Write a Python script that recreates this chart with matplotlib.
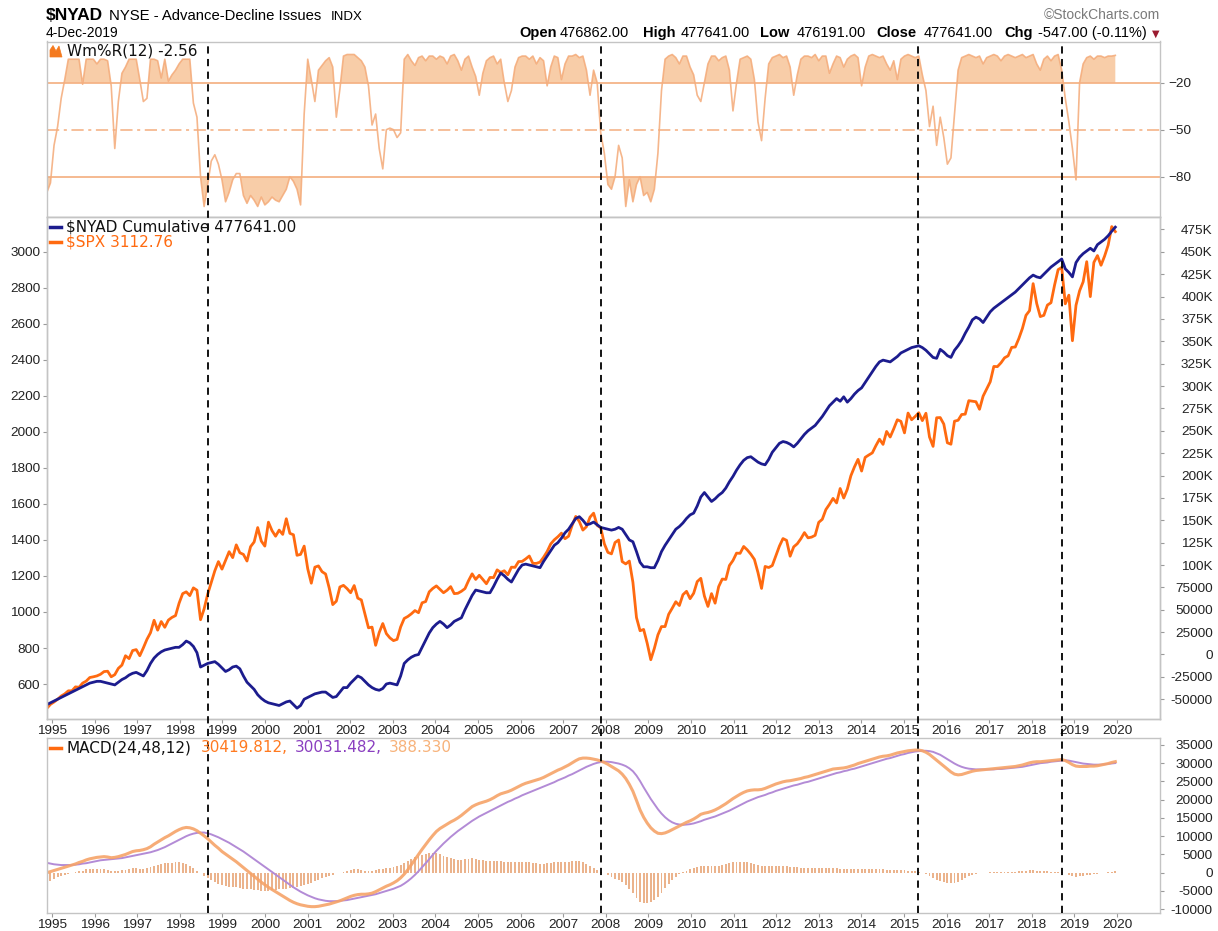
import numpy as np
import matplotlib.pyplot as plt
from matplotlib.lines import Line2D
from matplotlib.patches import Polygon

W, H = 1218, 931

# ---- data (monthly, Jan 1995 .. Dec 2019) ----
spx = [
    465, 487, 500, 515, 533, 545, 562, 562, 584, 582, 605, 616,
    636, 640, 645, 654, 669, 671, 640, 652, 687, 705, 757, 741,
    786, 791, 757, 801, 848, 885, 954, 899, 947, 915, 955, 970,
    980, 1049, 1102, 1112, 1091, 1134, 1121, 957, 1017, 1099, 1164, 1229,
    1280, 1238, 1286, 1335, 1302, 1373, 1329, 1320, 1283, 1363, 1389, 1469,
    1394, 1366, 1499, 1452, 1421, 1455, 1431, 1518, 1437, 1429, 1315, 1320,
    1366, 1240, 1160, 1249, 1256, 1224, 1211, 1134, 1041, 1060, 1139, 1148,
    1130, 1107, 1147, 1077, 1067, 990, 912, 916, 815, 886, 936, 880,
    856, 841, 848, 917, 964, 975, 990, 1008, 996, 1051, 1058, 1112,
    1131, 1145, 1126, 1107, 1121, 1141, 1102, 1104, 1115, 1130, 1174, 1212,
    1181, 1204, 1181, 1157, 1192, 1191, 1234, 1220, 1229, 1207, 1249, 1248,
    1280, 1281, 1295, 1311, 1270, 1270, 1277, 1304, 1336, 1378, 1401, 1418,
    1438, 1407, 1421, 1482, 1531, 1503, 1455, 1474, 1527, 1549, 1481, 1468,
    1379, 1331, 1323, 1386, 1400, 1280, 1267, 1283, 1165, 969, 896, 903,
    826, 735, 798, 873, 919, 919, 987, 1021, 1057, 1036, 1096, 1115,
    1074, 1104, 1169, 1187, 1089, 1031, 1102, 1049, 1141, 1183, 1181, 1258,
    1286, 1327, 1326, 1364, 1345, 1321, 1292, 1219, 1131, 1253, 1247, 1258,
    1312, 1366, 1408, 1398, 1310, 1362, 1379, 1407, 1441, 1412, 1416, 1426,
    1498, 1515, 1569, 1598, 1631, 1606, 1686, 1633, 1682, 1757, 1806, 1848,
    1783, 1859, 1872, 1884, 1924, 1960, 1931, 2003, 1972, 2018, 2068, 2059,
    1995, 2105, 2068, 2086, 2107, 2063, 2104, 1972, 1920, 2079, 2080, 2044,
    1940, 1932, 2060, 2065, 2097, 2099, 2174, 2171, 2168, 2126, 2199, 2239,
    2279, 2364, 2363, 2384, 2412, 2423, 2470, 2472, 2519, 2575, 2648, 2674,
    2824, 2714, 2641, 2648, 2705, 2718, 2816, 2902, 2914, 2712, 2760, 2507,
    2704, 2784, 2834, 2946, 2752, 2942, 2980, 2926, 2977, 3038, 3141, 3113,
]

# NYSE advance-decline cumulative line, thousands
nyad_k = [
    -56, -54, -52, -50, -48, -46, -44, -42, -40, -38, -36, -34,
    -32, -31, -30, -30, -31, -32, -33, -34, -31, -28, -26, -23,
    -21, -20, -22, -24, -18, -10, -4, 0, 3, 5, 6, 7,
    8, 8, 11, 15, 13, 9, 2, -14, -12, -10, -9, -8,
    -11, -15, -19, -17, -14, -13, -16, -24, -31, -35, -39, -45,
    -49, -52, -54, -55, -56, -57, -55, -53, -52, -56, -60, -57,
    -50, -48, -46, -44, -43, -42, -42, -45, -48, -47, -42, -37,
    -37, -32, -28, -24, -26, -30, -34, -37, -39, -40, -38, -33,
    -32, -33, -34, -24, -10, -6, -3, -1, 0, 8, 16, 24,
    30, 34, 37, 34, 30, 33, 37, 39, 41, 50, 58, 66,
    72, 71, 70, 69, 69, 76, 84, 91, 88, 84, 81, 88,
    95, 100, 101, 100, 99, 98, 97, 104, 110, 116, 122, 125,
    130, 136, 140, 146, 152, 154, 150, 145, 146, 148, 145, 142,
    141, 140, 139, 140, 142, 140, 134, 128, 126, 115, 103, 98,
    98, 97, 97, 105, 115, 122, 128, 134, 140, 143, 147, 152,
    156, 158, 166, 176, 181, 176, 171, 174, 178, 181, 186, 193,
    199, 206, 212, 217, 220, 221, 218, 215, 213, 212, 218, 226,
    231, 236, 238, 237, 235, 232, 236, 241, 246, 250, 253, 256,
    261, 266, 272, 278, 282, 286, 283, 288, 282, 286, 291, 295,
    298, 304, 310, 316, 322, 327, 329, 328, 327, 330, 333, 337,
    339, 341, 343, 344, 345, 343, 340, 336, 332, 331, 341, 338,
    334, 332, 340, 345, 351, 359, 366, 374, 377, 375, 371, 377,
    383, 387, 390, 393, 396, 399, 402, 405, 409, 413, 417, 421,
    424, 422, 421, 425, 429, 433, 436, 439, 442, 431, 427, 422,
    438, 444, 448, 451, 454, 451, 458, 461, 464, 468, 473, 477.6,
]

# Williams %R (12)
willr = [
    -90, -84, -60, -48, -30, -18, -5, -5, -5, -5, -21, -5,
    -5, -5, -8, -5, -5, -6, -22, -62, -32, -14, -10, -5,
    -5, -5, -18, -32, -30, -5, -5, -6, -17, -5, -19, -15,
    -12, -8, -5, -5, -5, -33, -42, -80, -99, -85, -70, -66,
    -72, -82, -96, -90, -82, -78, -78, -92, -97, -92, -95, -99,
    -93, -98, -96, -93, -95, -96, -92, -88, -80, -83, -88, -98,
    -40, -5, -18, -32, -12, -9, -6, -4, -10, -42, -24, -3,
    -2, -2, -2, -4, -6, -10, -22, -47, -40, -62, -75, -50,
    -49, -50, -55, -52, -5, -2, -6, -9, -4, -3, -6, -3,
    -3, -5, -3, -4, -8, -3, -2, -6, -12, -5, -3, -10,
    -16, -28, -14, -6, -4, -3, -8, -5, -20, -32, -25, -10,
    -4, -3, -3, -5, -3, -8, -4, -6, -22, -10, -3, -4,
    -18, -8, -3, -3, -2, -4, -3, -12, -28, -12, -20, -52,
    -65, -85, -88, -80, -60, -68, -99, -82, -96, -85, -80, -92,
    -90, -96, -88, -65, -25, -5, -3, -2, -4, -8, -3, -3,
    -10, -15, -28, -32, -20, -8, -3, -3, -6, -4, -3, -12,
    -38, -20, -5, -4, -3, -5, -18, -45, -57, -30, -8, -4,
    -3, -2, -4, -3, -10, -28, -15, -5, -3, -3, -4, -2,
    -6, -3, -3, -14, -8, -3, -4, -10, -5, -3, -2, -4,
    -22, -10, -3, -2, -3, -4, -3, -8, -12, -6, -18, -5,
    -3, -2, -3, -4, -3, -15, -25, -48, -35, -60, -42, -55,
    -72, -68, -40, -12, -4, -3, -2, -3, -4, -3, -8, -4,
    -3, -2, -3, -6, -3, -2, -3, -4, -3, -2, -4, -3,
    -2, -8, -12, -5, -3, -6, -3, -2, -12, -30, -45, -62,
    -82, -20, -8, -4, -3, -5, -3, -3, -4, -3, -3, -2.56,
]

# MACD(24,48,12) line and signal, thousands
macd_k = [
    0.0, 0.3, 0.6, 0.9, 1.2, 1.5, 1.8, 2.1, 2.4, 2.8, 3.1, 3.5,
    3.8, 4.0, 4.2, 4.3, 4.4, 4.3, 4.1, 4.2, 4.4, 4.7, 5.0, 5.4,
    5.8, 6.0, 6.1, 6.3, 6.6, 7.1, 7.8, 8.4, 9.0, 9.6, 10.1, 10.7,
    11.3, 11.8, 12.2, 12.4, 12.3, 12.0, 11.5, 10.8, 10.1, 9.3, 8.4, 7.5,
    6.7, 5.8, 5.1, 4.4, 3.7, 3.0, 2.2, 1.4, 0.6, -0.2, -1.0, -1.8,
    -2.6, -3.3, -4.0, -4.6, -5.2, -5.8, -6.4, -7.0, -7.6, -8.1, -8.5, -8.8,
    -9.0, -9.2, -9.3, -9.3, -9.2, -9.0, -8.8, -8.6, -8.3, -8.0, -7.7, -7.3,
    -6.9, -6.5, -6.2, -6.0, -5.9, -5.9, -5.8, -5.6, -5.2, -4.7, -4.2, -3.7,
    -3.3, -2.8, -2.2, -1.4, -0.4, 0.8, 2.2, 3.6, 5.0, 6.4, 7.7, 9.0,
    10.2, 11.3, 12.1, 12.7, 13.3, 13.9, 14.4, 15.0, 15.7, 16.5, 17.3, 18.1,
    18.6, 19.0, 19.3, 19.6, 20.0, 20.5, 21.1, 21.6, 21.9, 22.2, 22.6, 23.1,
    23.6, 24.1, 24.5, 24.8, 25.1, 25.4, 25.7, 26.1, 26.6, 27.1, 27.6, 28.1,
    28.5, 29.0, 29.5, 30.1, 30.7, 31.2, 31.4, 31.4, 31.3, 31.1, 30.9, 30.6,
    30.2, 29.7, 29.1, 28.5, 27.9, 27.0, 25.8, 24.2, 22.3, 19.8, 17.2, 15.2,
    13.6, 12.3, 11.4, 10.8, 10.7, 10.9, 11.3, 11.8, 12.3, 12.8, 13.3, 13.8,
    14.2, 14.7, 15.3, 16.0, 16.3, 16.5, 16.8, 17.2, 17.7, 18.3, 18.9, 19.6,
    20.3, 20.9, 21.5, 22.0, 22.4, 22.6, 22.7, 22.7, 22.8, 23.1, 23.5, 23.9,
    24.3, 24.6, 24.9, 25.1, 25.2, 25.4, 25.6, 25.8, 26.1, 26.3, 26.6, 26.9,
    27.2, 27.5, 27.8, 28.1, 28.4, 28.5, 28.6, 28.7, 28.9, 29.2, 29.5, 29.9,
    30.2, 30.5, 30.8, 31.1, 31.4, 31.7, 31.9, 32.0, 32.2, 32.5, 32.8, 33.0,
    33.2, 33.4, 33.5, 33.6, 33.6, 33.4, 33.0, 32.4, 31.6, 30.8, 30.0, 29.2,
    28.4, 27.6, 27.0, 26.8, 26.9, 27.2, 27.5, 27.8, 28.0, 28.1, 28.2, 28.3,
    28.4, 28.5, 28.6, 28.7, 28.8, 28.9, 29.0, 29.1, 29.3, 29.5, 29.8, 30.1,
    30.3, 30.4, 30.4, 30.5, 30.6, 30.7, 30.8, 30.9, 31.0, 30.7, 30.2, 29.6,
    29.2, 29.1, 29.1, 29.1, 29.2, 29.2, 29.3, 29.5, 29.7, 29.9, 30.2, 30.42,
]

signal_k = [
    2.7, 2.5, 2.3, 2.2, 2.1, 2.1, 2.1, 2.1, 2.2, 2.3, 2.5, 2.6,
    2.8, 3.0, 3.2, 3.4, 3.5, 3.6, 3.7, 3.8, 3.9, 4.0, 4.2, 4.4,
    4.6, 4.8, 5.0, 5.2, 5.4, 5.6, 5.9, 6.2, 6.6, 7.0, 7.5, 8.0,
    8.5, 9.0, 9.5, 10.0, 10.4, 10.7, 10.9, 11.0, 11.0, 10.8, 10.5, 10.1,
    9.7, 9.2, 8.7, 8.2, 7.6, 7.0, 6.4, 5.8, 5.1, 4.4, 3.7, 3.0,
    2.3, 1.6, 0.9, 0.2, -0.5, -1.2, -1.9, -2.6, -3.3, -4.0, -4.6, -5.2,
    -5.7, -6.2, -6.6, -7.0, -7.3, -7.5, -7.7, -7.8, -7.8, -7.8, -7.7, -7.6,
    -7.5, -7.3, -7.1, -6.9, -6.7, -6.5, -6.3, -6.1, -5.9, -5.6, -5.3, -5.0,
    -4.7, -4.4, -4.0, -3.6, -3.0, -2.3, -1.5, -0.6, 0.4, 1.5, 2.6, 3.7,
    4.9, 6.0, 7.0, 8.0, 8.9, 9.8, 10.6, 11.4, 12.1, 12.8, 13.5, 14.2,
    14.8, 15.4, 15.9, 16.4, 16.9, 17.4, 17.9, 18.4, 18.9, 19.4, 19.8, 20.3,
    20.7, 21.2, 21.6, 22.0, 22.4, 22.8, 23.2, 23.6, 24.0, 24.4, 24.8, 25.3,
    25.7, 26.1, 26.6, 27.0, 27.5, 28.0, 28.5, 29.0, 29.4, 29.8, 30.1, 30.3,
    30.4, 30.4, 30.3, 30.1, 29.9, 29.6, 29.2, 28.6, 27.8, 26.6, 25.1, 23.4,
    21.8, 20.2, 18.8, 17.4, 16.2, 15.2, 14.4, 13.8, 13.4, 13.2, 13.1, 13.2,
    13.3, 13.5, 13.8, 14.1, 14.5, 14.8, 15.1, 15.4, 15.8, 16.2, 16.6, 17.0,
    17.5, 18.0, 18.5, 19.0, 19.5, 19.9, 20.3, 20.7, 21.0, 21.3, 21.7, 22.0,
    22.4, 22.7, 23.0, 23.3, 23.6, 23.9, 24.1, 24.4, 24.7, 24.9, 25.2, 25.5,
    25.8, 26.1, 26.4, 26.7, 27.0, 27.3, 27.5, 27.8, 28.0, 28.3, 28.5, 28.8,
    29.1, 29.4, 29.7, 30.0, 30.3, 30.6, 30.9, 31.2, 31.4, 31.7, 32.0, 32.3,
    32.5, 32.8, 33.0, 33.2, 33.3, 33.4, 33.4, 33.3, 33.1, 32.7, 32.3, 31.7,
    31.1, 30.5, 29.9, 29.4, 29.0, 28.7, 28.5, 28.4, 28.3, 28.3, 28.3, 28.3,
    28.3, 28.3, 28.4, 28.4, 28.5, 28.6, 28.7, 28.8, 28.9, 29.0, 29.2, 29.4,
    29.6, 29.8, 30.0, 30.1, 30.2, 30.4, 30.5, 30.6, 30.7, 30.8, 30.7, 30.5,
    30.3, 30.1, 29.9, 29.8, 29.7, 29.6, 29.6, 29.6, 29.7, 29.8, 29.9, 30.03,
]

years = list(range(1995, 2021))
event_dates = [1998.66, 2007.89, 2015.33, 2018.71]

for arr in (nyad_k, willr, macd_k, signal_k):
    assert len(arr) == len(spx), len(arr)

n = len(spx)
t = np.linspace(1994.88, 2019.96, n)
nyad = np.array(nyad_k) * 1000
macd = np.array(macd_k) * 1000
signal = np.array(signal_k) * 1000
hist = macd - signal
willr = np.array(willr)

# ---- layout helpers (pixel boxes -> figure fractions) ----
def box(x0, y0, x1, y1):
    return [x0 / W, 1 - y1 / H, (x1 - x0) / W, (y1 - y0) / H]

def fx(x):
    return x / W

def fy(y):
    return 1 - y / H

XLIM = (1994.871, 2021.009)
FRAME = '#c4c4c4'
TICKC = '#9a9a9a'
AXFONT = 'Liberation Sans'
LEGFONT = 'DejaVu Sans'
LEGSIZE = 11

fig = plt.figure(figsize=(W / 100, H / 100), dpi=100)
fig.patch.set_facecolor('white')

ax_top = fig.add_axes(box(46.5, 41.5, 1160, 216.5))
ax_main = fig.add_axes(box(46.5, 216.5, 1160, 719))
ax_ny = ax_main.twinx()
ax_bot = fig.add_axes(box(46.5, 738, 1160, 913))

for a in (ax_top, ax_main, ax_ny, ax_bot):
    a.set_xlim(*XLIM)
    for s in a.spines.values():
        s.set_color(FRAME)
        s.set_linewidth(1.0)
    a.tick_params(colors=TICKC, labelcolor='#222222', length=3, width=0.8,
                  labelsize=9.7)

# ---- top panel: Williams %R ----
wr_line = '#f4aa78'
wr_fill = '#f8cda8'
ax_top.set_ylim(-105.4, 6.3)
ax_top.fill_between(t, willr, -20, where=willr > -20, interpolate=True,
                    color=wr_fill, lw=0)
ax_top.fill_between(t, willr, -80, where=willr < -80, interpolate=True,
                    color=wr_fill, lw=0)
ax_top.plot(t, willr, color=wr_line, lw=1.2, alpha=0.85)
ax_top.axhline(-20, color='#f4ae7e', lw=1.2)
ax_top.axhline(-80, color='#f4ae7e', lw=1.2)
ax_top.axhline(-50, color='#f4ae7e', lw=1.1, dashes=(8, 3, 2, 3))
ax_top.set_xticks([])
ax_top.set_yticks([-20, -50, -80])
ax_top.tick_params(axis='y', left=False, labelleft=False, right=True,
                   labelright=True, pad=3)
for lbl in ax_top.get_yticklabels():
    lbl.set_fontfamily(AXFONT)

# ---- main panel: $SPX (left) and $NYAD cumulative (right) ----
ax_main.plot(t, spx, color='#ff6a10', lw=2.0)
ax_main.set_ylim(405.6, 3197)
ax_main.set_yticks(range(600, 3001, 200))
ax_main.set_xticks(years)
ax_main.set_xticklabels([str(y) for y in years])
ax_main.tick_params(axis='y', pad=1.5)
ax_main.tick_params(axis='x', pad=1.5)

ax_ny.plot(t, nyad, color='#1c1c8e', lw=2.0)
ax_ny.set_ylim(-72100, 489500)
ny_ticks = list(range(-50000, 475001, 25000))
ax_ny.set_yticks(ny_ticks)
ax_ny.set_yticklabels([f"{v // 1000}K" if v >= 100000 else str(v) for v in ny_ticks])
ax_ny.tick_params(axis='y', pad=35)
for tk in ax_ny.yaxis.get_major_ticks():
    tk.label2.set_horizontalalignment('right')

for lbl in ax_main.get_xticklabels() + ax_main.get_yticklabels() + ax_ny.get_yticklabels():
    lbl.set_fontfamily(AXFONT)

# ---- bottom panel: MACD(24,48,12) ----
ax_bot.set_ylim(-11040, 36900)
ax_bot.bar(t, hist, width=0.045, color='#ebb38c', lw=0)
ax_bot.plot(t, signal, color='#b38bd6', lw=1.4)
ax_bot.plot(t, macd, color='#f6a368', lw=2.2, alpha=0.9)
ax_bot.set_xticks(years)
ax_bot.set_xticklabels([str(y) for y in years])
ax_bot.tick_params(axis='x', pad=1.5)
bot_ticks = list(range(-10000, 35001, 5000))
ax_bot.set_yticks(bot_ticks)
ax_bot.set_yticklabels([str(v) for v in bot_ticks])
ax_bot.tick_params(axis='y', left=False, labelleft=False, right=True,
                   labelright=True, pad=35)
for tk in ax_bot.yaxis.get_major_ticks():
    tk.label2.set_horizontalalignment('right')
for lbl in ax_bot.get_xticklabels() + ax_bot.get_yticklabels():
    lbl.set_fontfamily(AXFONT)

# ---- dashed event lines across all panels ----
ov = fig.add_axes(box(46.5, 41.5, 1160, 913))
ov.set_xlim(*XLIM)
ov.set_ylim(0, 1)
ov.axis('off')
ov.patch.set_visible(False)
for d in event_dates:
    ov.axvline(d, color='black', lw=1.3, dashes=(4, 3))

# ---- header ----
fig.text(fx(46), fy(16), '$NYAD', fontsize=12.5, fontweight='bold',
         family=AXFONT, va='center')
fig.text(fx(109), fy(16.5), 'NYSE - Advance-Decline Issues', fontsize=10.7,
         family=AXFONT, va='center')
fig.text(fx(331), fy(17), 'INDX', fontsize=9.5, family=AXFONT, va='center')
fig.text(fx(46), fy(33), '4-Dec-2019', fontsize=10, family=AXFONT, va='center')
fig.text(fx(1160), fy(15), '\u00a9StockCharts.com', fontsize=10, family=AXFONT,
         color='#7a7a7a', ha='right', va='center')

row = [
    (519, 'Open', True), (560, '476862.00', False),
    (642.6, 'High', True), (680.8, '477641.00', False),
    (759.6, 'Low', True), (797, '476191.00', False),
    (876, 'Close', True), (924, '477641.00', False),
    (1004, 'Chg', True), (1037.5, '-547.00 (-0.11%)', False),
]
for x, s, bold in row:
    fig.text(fx(x), fy(33), s, fontsize=10.5, family=AXFONT, va='center',
             fontweight='bold' if bold else 'normal')
fig.text(fx(1156), fy(34), '\u25bc', fontsize=7, color='#9b1b30',
         ha='center', va='center', family='DejaVu Sans')

# ---- legends ----
fig.add_artist(Polygon([(fx(50), fy(57)), (fx(50), fy(50)), (fx(53), fy(45.5)),
                        (fx(56), fy(51)), (fx(59), fy(46)), (fx(62), fy(57))],
                       closed=True, transform=fig.transFigure,
                       facecolor='#f47a1f', edgecolor='#f47a1f', lw=0.5))
fig.text(fx(67), fy(51.5), 'Wm%R(12) -2.56', fontsize=LEGSIZE, family=LEGFONT,
         va='center', color='#111111')

fig.add_artist(Line2D([fx(50), fx(61)], [fy(226.7), fy(226.7)], color='#1c1c8e',
                      lw=2.5, transform=fig.transFigure))
fig.text(fx(66), fy(226.7), '$NYAD Cumulative 477641.00', fontsize=LEGSIZE,
         family=LEGFONT, va='center', color='#111111')
fig.add_artist(Line2D([fx(50), fx(61)], [fy(242.3), fy(242.3)], color='#ff6a10',
                      lw=2.5, transform=fig.transFigure))
fig.text(fx(66), fy(242.3), '$SPX 3112.76', fontsize=LEGSIZE,
         family=LEGFONT, va='center', color='#ff6a10')

fig.add_artist(Line2D([fx(50), fx(61)], [fy(748), fy(748)], color='#ff6a10',
                      lw=2.5, transform=fig.transFigure))
macd_leg = [
    (67, 'MACD(24,48,12)', '#111111'),
    (201, '30419.812,', '#ff7a20'),
    (294.7, '30031.482,', '#8a3fc0'),
    (388.4, '388.330', '#f7b27a'),
]
for x, s, c in macd_leg:
    fig.text(fx(x), fy(748), s, fontsize=LEGSIZE, family=LEGFONT, va='center',
             color=c)

fig.savefig('out.png', dpi=100, facecolor='white')
